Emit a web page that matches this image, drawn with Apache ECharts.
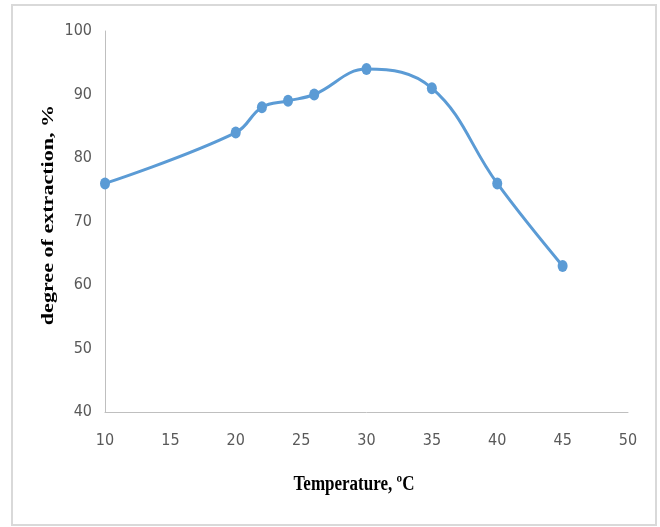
<!DOCTYPE html>
<html>
<head>
<meta charset="utf-8">
<script src="https://cdn.jsdelivr.net/npm/echarts@6/dist/echarts.min.js"></script>
<style>
  html, body { margin: 0; padding: 0; background: #fff; }
  #chart { width: 660px; height: 527px; }
</style>
</head>
<body>
<div id="chart"></div>
<script>
// temperature (C) vs degree of extraction (%)
var temperature = [10, 20, 22, 24, 26, 30, 35, 40, 45];
var extraction = [76, 84, 88, 89, 90, 94, 91, 76, 63];

var labelFont = '"Liberation Sans Narrow", "DejaVu Sans Condensed", "Open Sans", sans-serif';
var titleFont = '"Liberation Serif", "DejaVu Serif", serif';

var chart = echarts.init(document.getElementById('chart'));
var option = {
  backgroundColor: '#fff',
  animation: false,
  graphic: [
    {
      type: 'rect',
      shape: { x: 12, y: 5, width: 644, height: 520 },
      style: { fill: 'none', stroke: '#d9d9d9', lineWidth: 2 }
    },
    {
      // y axis title, stretched along its length like the source image
      type: 'text',
      x: 49,
      y: 215,
      rotation: Math.PI / 2,
      scaleX: 1.38,
      style: {
        text: 'degree of extraction, %',
        font: 'bold 16px ' + titleFont,
        fill: '#000',
        align: 'center',
        verticalAlign: 'middle'
      }
    },
    {
      type: 'text',
      x: 354,
      y: 485,
      scaleY: 1.25,
      style: {
        text: 'Temperature, ºC',
        font: 'bold 17px ' + titleFont,
        fill: '#000',
        align: 'center',
        verticalAlign: 'middle'
      }
    }
  ],
  grid: { left: 105, right: 32, top: 31, bottom: 115 },
  xAxis: {
    type: 'value',
    min: 10,
    max: 50,
    interval: 5,
    axisLine: { show: true, lineStyle: { color: '#bfbfbf', width: 1 } },
    axisTick: { show: false },
    splitLine: { show: false },
    axisLabel: { color: '#595959', fontSize: 16, fontFamily: labelFont, margin: 21 }
  },
  yAxis: {
    type: 'value',
    min: 40,
    max: 100,
    interval: 10,
    axisLine: { show: true, lineStyle: { color: '#bfbfbf', width: 1 } },
    axisTick: { show: false },
    splitLine: { show: false },
    axisLabel: { color: '#595959', fontSize: 16, fontFamily: labelFont, margin: 13 }
  },
  series: [
    {
      type: 'line',
      data: temperature.map(function (t, i) { return [t, extraction[i]]; }),
      smooth: 0.4,
      symbol: 'circle',
      symbolSize: [10, 12],
      lineStyle: { color: '#5b9bd5', width: 3 },
      itemStyle: { color: '#5b9bd5' }
    }
  ]
};
chart.setOption(option);
</script>
</body>
</html>
